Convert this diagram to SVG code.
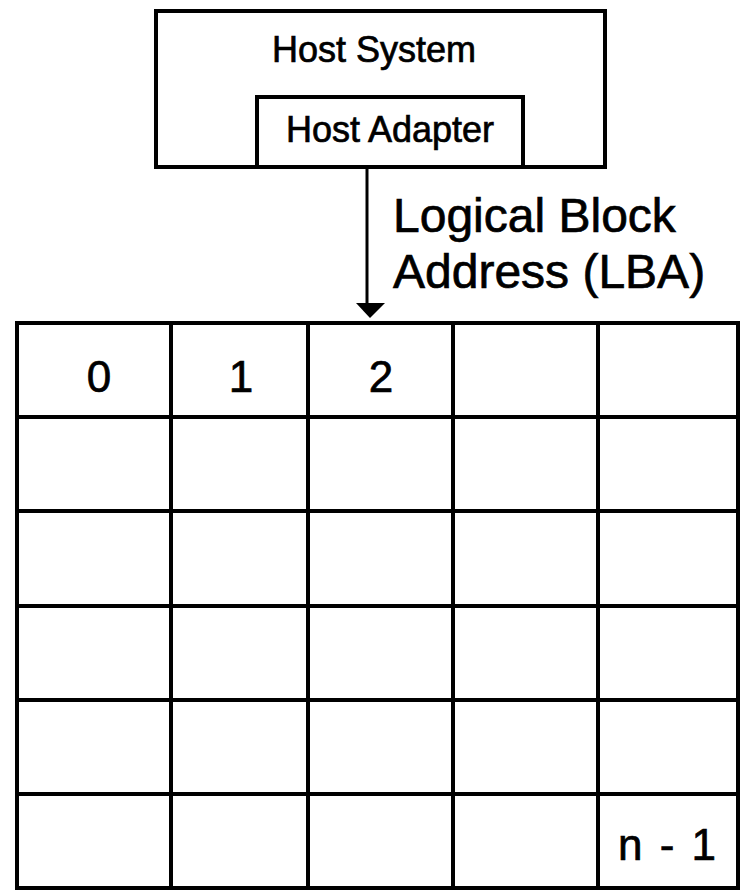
<svg xmlns="http://www.w3.org/2000/svg" width="750" height="890" viewBox="0 0 750 890">
<style>
.box{fill:#fff;stroke:#000;stroke-width:4}
.ln{stroke:#000;stroke-width:4;fill:none}
.t{font-family:"Liberation Sans",Arial,sans-serif;fill:#000;stroke:#000;stroke-width:0.7}
</style>
<rect width="750" height="890" fill="#fff"/>
<g id="host-system">
<rect class="box" x="156" y="11" width="449" height="156"/>
<text class="t" x="374" y="62" font-size="36" text-anchor="middle">Host System</text>
</g>
<g id="host-adapter">
<rect class="box" x="257" y="97" width="266" height="70"/>
<text class="t" x="390" y="142" font-size="36" text-anchor="middle">Host Adapter</text>
</g>
<g id="connectors">
<line x1="367" y1="167" x2="367" y2="305" stroke="#000" stroke-width="3"/>
<polygon points="356,303 385,303 370,318" fill="#000"/>
<text class="t" x="393" y="232" font-size="48">Logical Block</text>
<text class="t" x="393" y="288" font-size="48">Address (LBA)</text>
</g>
<g id="lba-grid">
<rect class="box" x="17" y="323" width="721" height="565"/>
<path class="ln" d="M171 323V888M308 323V888M453 323V888M598 323V888M17 417H738M17 511H738M17 606H738M17 700H738M17 794H738"/>
<text class="t" x="99" y="392" font-size="44" text-anchor="middle">0</text>
<text class="t" x="241" y="392" font-size="44" text-anchor="middle">1</text>
<text class="t" x="381" y="392" font-size="44" text-anchor="middle">2</text>
<text class="t" x="618" y="860" font-size="44" word-spacing="5">n - 1</text>
</g>
</svg>
